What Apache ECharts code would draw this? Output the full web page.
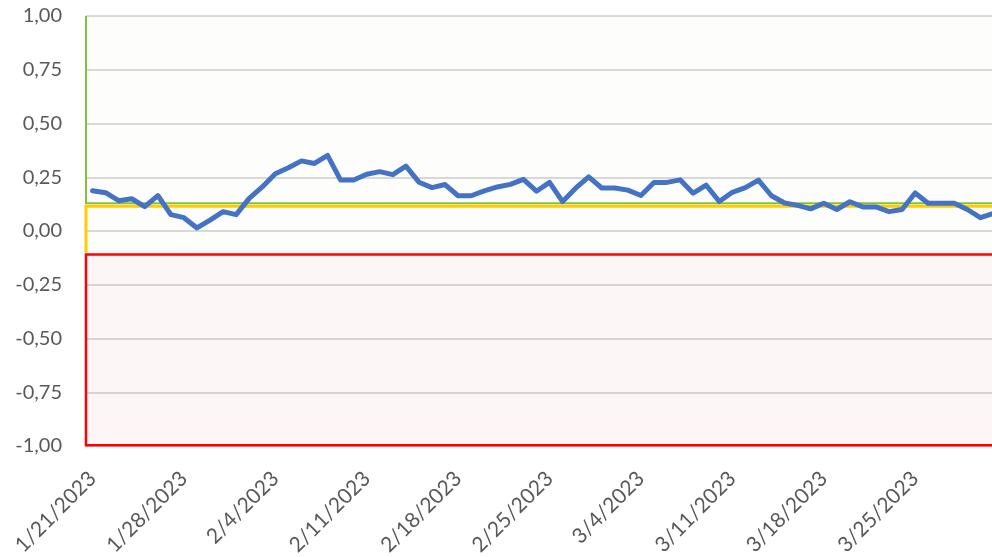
<!DOCTYPE html>
<html>
<head>
<meta charset="utf-8">
<script src="https://cdn.jsdelivr.net/npm/echarts@6/dist/echarts.min.js"></script>
<style>
  html, body { margin: 0; padding: 0; background: #ffffff; }
  #chart { width: 992px; height: 557px; }
</style>
</head>
<body>
<div id="chart"></div>
<script>
// ---- data ----
const startDate = [2023, 1, 21];
const values = [
  0.187, 0.178, 0.141, 0.150, 0.113, 0.165, 0.076, 0.062, 0.014, 0.051,
  0.090, 0.076, 0.152, 0.205, 0.266, 0.294, 0.326, 0.314, 0.352, 0.237,
  0.237, 0.264, 0.276, 0.262, 0.302, 0.227, 0.202, 0.216, 0.164, 0.164,
  0.187, 0.205, 0.217, 0.240, 0.185, 0.226, 0.137, 0.199, 0.252, 0.200,
  0.200, 0.190, 0.165, 0.226, 0.226, 0.238, 0.176, 0.213, 0.137, 0.180,
  0.202, 0.237, 0.164, 0.130, 0.119, 0.103, 0.129, 0.100, 0.136, 0.112,
  0.112, 0.090, 0.100, 0.177, 0.129, 0.129, 0.129, 0.100, 0.062, 0.082
];
// threshold zones: [low, high]
const zoneLow  = [0.125, -0.1, -1];
const zoneHigh = [1, 0.125, -0.1];
const yMin = -1, yMax = 1, yStep = 0.25;

// consecutive daily categories
const categories = [];
{
  const d0 = new Date(startDate[0], startDate[1] - 1, startDate[2]);
  for (let i = 0; i < values.length; i++) {
    const d = new Date(d0.getFullYear(), d0.getMonth(), d0.getDate() + i);
    categories.push((d.getMonth() + 1) + '/' + d.getDate() + '/' + d.getFullYear());
  }
}

// ---- styles ----
const zoneStyles = [
  { fill: 'rgba(200,200,150,0.035)', stroke: '#84C13C', width: 2,   kind: 'green' },
  { fill: 'rgba(200,200,150,0.035)', stroke: '#FFCC00', width: 3,   kind: 'yellow' },
  { fill: 'rgba(230,170,170,0.10)',  stroke: '#FF0000', width: 2.5, kind: 'red' }
];

const zoneData = zoneLow.map((lo, i) => [0, lo, zoneHigh[i], i]);

const chart = echarts.init(document.getElementById('chart'), null, { renderer: 'canvas' });
const fontFam = 'Lato, "Noto Sans", sans-serif';

chart.setOption({
  animation: false,
  backgroundColor: '#ffffff',
  grid: { left: 86, top: 16, height: 430, width: 914, containLabel: false, outerBoundsMode: 'none' },
  xAxis: {
    type: 'category',
    data: categories,
    boundaryGap: true,
    axisLine: { show: false },
    axisTick: { show: false },
    splitLine: { show: false },
    axisLabel: {
      interval: 6,
      rotate: 45,
      margin: 29,
      verticalAlign: 'middle',
      color: '#595959',
      fontFamily: fontFam,
      fontSize: 21
    }
  },
  yAxis: {
    type: 'value',
    min: yMin, max: yMax, interval: yStep,
    axisLine: { show: false },
    axisTick: { show: false },
    splitLine: { show: true, lineStyle: { color: '#d9d9d9', width: 2 } },
    axisLabel: {
      margin: 24,
      color: '#595959',
      fontFamily: fontFam,
      fontSize: 20,
      formatter: v => v.toFixed(2).replace('.', ',')
    }
  },
  series: [
    {
      type: 'custom',
      z: 1,
      silent: true,
      clip: false,
      data: zoneData,
      encode: { x: 0, y: [1, 2] },
      renderItem: function (params, api) {
        const lo = api.value(1), hi = api.value(2), k = api.value(3);
        const cs = params.coordSys;
        const yTop = api.coord([0, hi])[1];
        const yBot = api.coord([0, lo])[1];
        const x0 = cs.x - 1, x1 = cs.x + cs.width;
        const st = zoneStyles[k];
        const children = [{
          type: 'rect',
          shape: { x: x0, y: yTop, width: x1 - x0, height: yBot - yTop },
          style: { fill: st.fill }
        }];
        let pts;
        if (st.kind === 'green') {
          pts = [[x1, yBot - 1], [x0 + 1, yBot - 1], [x0 + 1, yTop]];
          children.push({ type: 'polyline', shape: { points: pts },
            style: { stroke: st.stroke, lineWidth: st.width, fill: null } });
        } else if (st.kind === 'yellow') {
          pts = [[x1, yTop + 2], [x0 + 1, yTop + 2], [x0 + 1, yBot]];
          children.push({ type: 'polyline', shape: { points: pts },
            style: { stroke: st.stroke, lineWidth: st.width, fill: null } });
        } else {
          children.push({ type: 'rect',
            shape: { x: x0 + 1, y: yTop + 2, width: x1 - x0 + 20, height: (yBot - 0.8) - (yTop + 2) },
            style: { stroke: st.stroke, lineWidth: st.width, fill: null } });
        }
        return { type: 'group', children: children };
      }
    },
    {
      type: 'line',
      z: 5,
      data: values,
      symbol: 'none',
      smooth: false,
      lineStyle: { color: '#4472C4', width: 5, join: 'round', cap: 'round' },
      itemStyle: { color: '#4472C4' }
    }
  ]
});
</script>
</body>
</html>
